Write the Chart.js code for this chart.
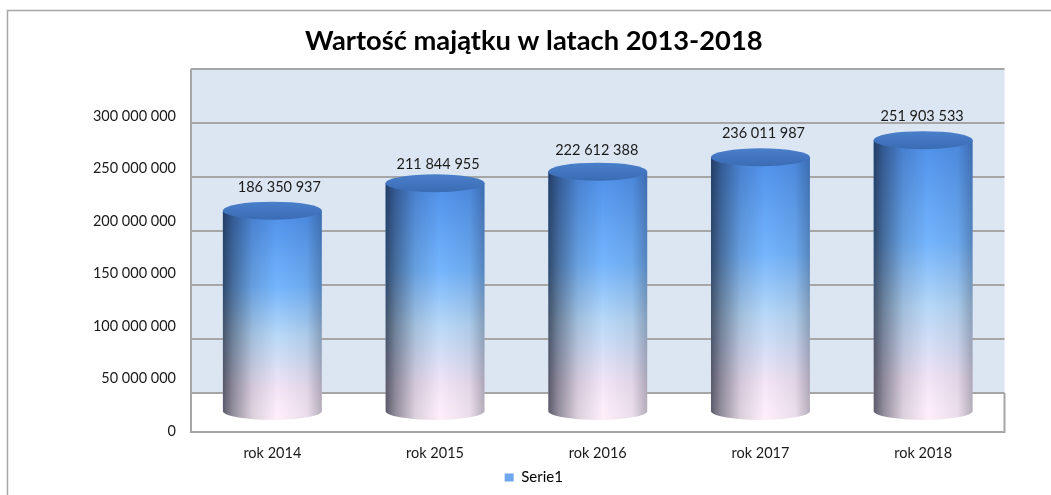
<!DOCTYPE html>
<html>
<head>
<meta charset="utf-8">
<style>
    html, body { margin: 0; padding: 0; background: #fff; }
    #wrap { width: 1051px; height: 495px; }
</style>
<script src="https://cdn.jsdelivr.net/npm/chart.js@4"></script>
</head>
<body>
<div id="wrap"><canvas id="majatekChart" width="1051" height="495"></canvas></div>
<script>
const tytul = "Wartość majątku w latach 2013-2018";
const categories = ["rok 2014", "rok 2015", "rok 2016", "rok 2017", "rok 2018"];
const seriesName = "Serie1";
const seriesValues = [186350937, 211844955, 222612388, 236011987, 251903533];
const tickValues = [0, 50000000, 100000000, 150000000, 200000000, 250000000, 300000000];

const FONT = "Lato, sans-serif";
const TEXT = "#1a1a1a";

function formatuj(v) {
    return String(v).replace(/\B(?=(\d{3})+$)/g, " ");
}

function ustawTicki(scale) {
    scale.ticks = tickValues.map(v => ({ value: v }));
}

// pionowy gradient walca, liczony osobno dla kazdego slupka
function gradientSlupka(context) {
    const chart = context.chart;
    if (!chart.chartArea || !context.parsed) return "#6ea6ee";
    const os = chart.scales.yBar;
    const g = chart.ctx.createLinearGradient(0, os.getPixelForValue(context.parsed.y), 0, os.getPixelForValue(0));
    g.addColorStop(0, "#4f90ea");
    g.addColorStop(0.38, "#74b5fd");
    g.addColorStop(0.62, "#b8d9f8");
    g.addColorStop(0.88, "#f2e4f6");
    g.addColorStop(1, "#fdeefa");
    return g;
}

// sciana, podloga i ramka wykresu
const tloWykresu = {
    id: "tloWykresu",
    beforeDraw(chart) {
        const { ctx, chartArea: a, scales } = chart;
        const dolSciany = scales.yGrid.getPixelForValue(0);
        ctx.save();
        ctx.fillStyle = "#dce6f2";
        ctx.fillRect(a.left, a.top, a.right - a.left, dolSciany - a.top);
        ctx.strokeStyle = "#a6a6a6";
        ctx.lineWidth = 1.5;
        ctx.beginPath();
        ctx.moveTo(7.5, 495);
        ctx.lineTo(7.5, 10.5);
        ctx.lineTo(1051, 10.5);
        ctx.stroke();
        ctx.restore();
    },
    beforeDatasetsDraw(chart) {
        const { ctx, chartArea: a, scales } = chart;
        const dolSciany = scales.yGrid.getPixelForValue(0);
        ctx.save();
        ctx.strokeStyle = "#a6a6a6";
        ctx.lineWidth = 2;
        ctx.beginPath();
        ctx.moveTo(a.right, dolSciany);
        ctx.lineTo(a.right, a.bottom);
        ctx.lineTo(a.left, a.bottom);
        ctx.lineTo(a.left, a.top);
        ctx.stroke();
        ctx.restore();
    }
};

// cieniowanie walcow, pokrywki i etykiety wartosci
const LABEL_DX = [7, 3, -1, 3, -1];
const LABEL_DY = [-14, -10, -12, -15, -15];
const walce = {
    id: "walce",
    afterDatasetsDraw(chart) {
        const { ctx } = chart;
        const RY = 9;
        chart.getDatasetMeta(0).data.forEach((bar, i) => {
            const p = bar.getProps(["x", "y", "base", "width"], true);
            const rx = p.width / 2;
            const lewa = p.x - rx;

            // dolna polowa elipsy
            ctx.save();
            ctx.fillStyle = "#fdeefa";
            ctx.beginPath();
            ctx.ellipse(p.x, p.base, rx, RY, 0, 0, Math.PI);
            ctx.fill();

            const cien = ctx.createLinearGradient(lewa, 0, lewa + p.width, 0);
            cien.addColorStop(0, "rgba(15,22,40,0.68)");
            cien.addColorStop(0.1, "rgba(15,22,40,0.45)");
            cien.addColorStop(0.3, "rgba(15,22,40,0.14)");
            cien.addColorStop(0.55, "rgba(15,22,40,0)");
            cien.addColorStop(0.85, "rgba(15,22,40,0.08)");
            cien.addColorStop(1, "rgba(15,22,40,0.3)");
            ctx.fillStyle = cien;
            ctx.beginPath();
            ctx.moveTo(lewa, p.y);
            ctx.lineTo(lewa + p.width, p.y);
            ctx.lineTo(lewa + p.width, p.base);
            ctx.ellipse(p.x, p.base, rx, RY, 0, 0, Math.PI);
            ctx.closePath();
            ctx.fill();

            const pokrywa = ctx.createLinearGradient(0, p.y - RY, 0, p.y + RY);
            pokrywa.addColorStop(0, "#4a7fcb");
            pokrywa.addColorStop(1, "#3a6cb4");
            ctx.fillStyle = pokrywa;
            ctx.beginPath();
            ctx.ellipse(p.x, p.y, rx, RY, 0, 0, Math.PI * 2);
            ctx.fill();

            ctx.fillStyle = TEXT;
            ctx.font = "14.5px " + FONT;
            ctx.textAlign = "center";
            ctx.textBaseline = "middle";
            ctx.fillText(formatuj(seriesValues[i]), p.x + LABEL_DX[i], p.y - RY + LABEL_DY[i]);
            ctx.restore();
        });
    }
};

new Chart(document.getElementById("majatekChart").getContext("2d"), {
    type: "bar",
    plugins: [tloWykresu, walce],
    data: {
        labels: categories,
        datasets: [{
            label: seriesName,
            data: seriesValues,
            yAxisID: "yBar",
            backgroundColor: gradientSlupka,
            borderWidth: 0,
            barPercentage: 1,
            categoryPercentage: 0.608
        }]
    },
    options: {
        responsive: false,
        animation: false,
        layout: { padding: { left: 63, right: 46.5, top: 25, bottom: 0 } },
        plugins: {
            title: {
                display: true,
                text: tytul,
                color: "#000",
                font: { family: FONT, size: 27.3, weight: "bold" },
                padding: { top: 0, bottom: 11.2 }
            },
            legend: {
                position: "bottom",
                labels: {
                    boxWidth: 9,
                    boxHeight: 8,
                    padding: 4,
                    color: TEXT,
                    font: { family: FONT, size: 15 },
                    generateLabels: () => [{
                        text: seriesName,
                        fillStyle: "#6ea6ee",
                        strokeStyle: "#6ea6ee",
                        lineWidth: 0,
                        datasetIndex: 0
                    }]
                }
            },
            tooltip: { enabled: false }
        },
        scales: {
            x: {
                grid: { display: false },
                border: { display: false },
                ticks: { color: TEXT, padding: 5, font: { family: FONT, size: 14.5 }, maxRotation: 0 },
                afterFit: (s) => { s.height = 34; }
            },
            // skala z etykietami, na przedniej krawedzi podlogi
            yLabels: {
                position: "left",
                min: -952000,
                max: 344760000,
                afterBuildTicks: ustawTicki,
                grid: { display: false },
                border: { display: false },
                ticks: { color: TEXT, padding: 7, font: { family: FONT, size: 14.5 }, callback: (v) => formatuj(v) },
                afterFit: (s) => { s.width = 128; }
            },
            // linie siatki na tylnej scianie
            yGrid: {
                position: "left",
                min: -36110000,
                max: 300000000,
                afterBuildTicks: ustawTicki,
                grid: { color: "#a6a6a6", lineWidth: 2, drawTicks: false },
                border: { display: false },
                ticks: { display: false },
                afterFit: (s) => { s.width = 0; }
            },
            // skala slupkow, w srodku glebokosci wykresu
            yBar: {
                display: false,
                min: -19530000,
                max: 318140000
            }
        }
    }
});
</script>
</body>
</html>
